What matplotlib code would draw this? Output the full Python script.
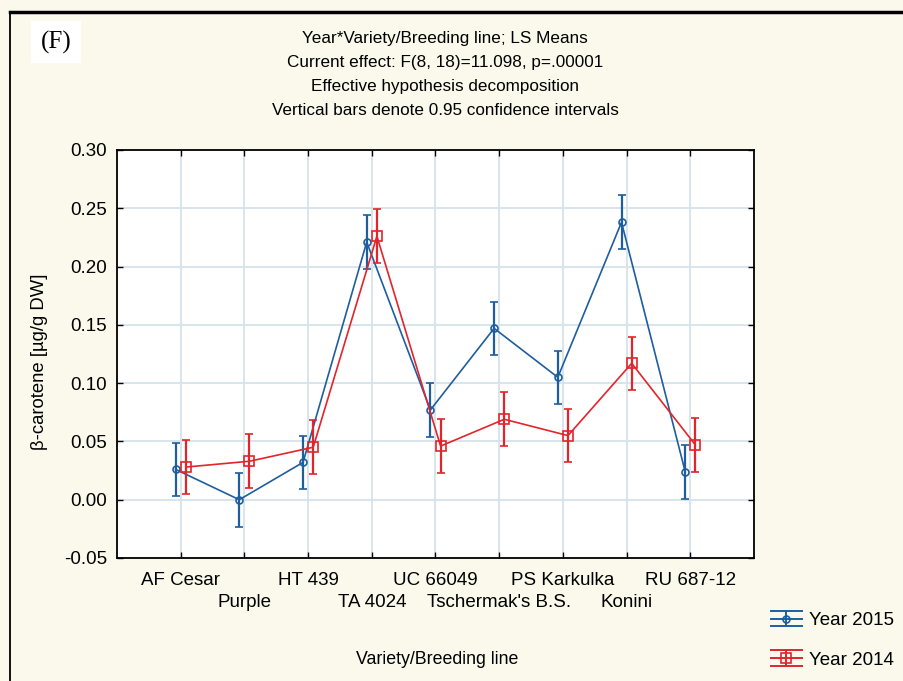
import numpy as np
import matplotlib
matplotlib.use("Agg")
import matplotlib.pyplot as plt
from matplotlib.lines import Line2D
from matplotlib.legend_handler import HandlerBase

# LS means per variety/breeding line, beta-carotene [ug/g DW]
varieties = ["AF Cesar", "Purple", "HT 439", "TA 4024", "UC 66049",
             "Tschermak's B.S.", "PS Karkulka", "Konini", "RU 687-12"]
year_2015 = [0.026, 0.000, 0.032, 0.221, 0.077, 0.147, 0.105, 0.238, 0.024]
year_2014 = [0.028, 0.033, 0.045, 0.226, 0.046, 0.069, 0.055, 0.117, 0.047]
# half width of the 0.95 confidence intervals
ci_2015 = [0.023] * 9
ci_2014 = [0.023] * 9

blue = "#1f5e9e"
red = "#e3242b"
bg = "#fbf9ec"

plt.rcParams["font.family"] = ["Liberation Sans", "DejaVu Sans"]


class ErrorbarKey(HandlerBase):
    # legend key: line with marker, vertical bar and full-width caps
    def create_artists(self, legend, orig_handle, xdescent, ydescent,
                       width, height, fontsize, trans):
        c = orig_handle.get_color()
        x0, x1 = -xdescent, width - xdescent
        ym = -ydescent + height / 2
        top, bot = ym + height * 0.6, ym - height * 0.6
        xm = (x0 + x1) / 2
        arts = [Line2D([x0, x1], [top, top]), Line2D([x0, x1], [ym, ym]),
                Line2D([x0, x1], [bot, bot]), Line2D([xm, xm], [bot, top])]
        for a in arts:
            a.set_color(c)
            a.set_linewidth(1.4)
        arts.append(Line2D([xm], [ym], marker=orig_handle.get_marker(),
                           markersize=orig_handle.get_markersize(),
                           mfc="none", mec=c, mew=1.2, linestyle="none"))
        for a in arts:
            a.set_transform(trans)
        return arts


fig = plt.figure(figsize=(9.04, 6.81), dpi=100, facecolor=bg)
ax = fig.add_axes([117 / 904, 1 - 558 / 681, (754 - 117) / 904, (558 - 150) / 681])
ax.set_facecolor("white")

x = np.arange(1, len(varieties) + 1)
ax.errorbar(x - 0.08, year_2015, yerr=ci_2015, color=blue, lw=1.2,
            marker="o", ms=5, mfc="none", mew=1.2, elinewidth=1.6,
            capsize=3, capthick=1.6, zorder=3)
ax.errorbar(x + 0.08, year_2014, yerr=ci_2014, color=red, lw=1.2,
            marker="s", ms=6.5, mfc="none", mew=1.2, elinewidth=1.6,
            capsize=3, capthick=1.6, zorder=4)

ax.set_xlim(0, 10)
ax.set_ylim(-0.05, 0.30)
yt = np.arange(-0.05, 0.301, 0.05)
ax.set_yticks(yt)
ax.set_yticklabels([f"{v:.2f}" for v in yt])
# category names on two staggered rows
ax.set_xticks(x[::2])
ax.set_xticklabels(varieties[::2])
ax.set_xticks(x[1::2], minor=True)
ax.set_xticklabels(varieties[1::2], minor=True)
ax.tick_params(which="both", direction="in", length=4, width=1, top=True,
               right=True, labelsize=13.5, pad=7)
ax.tick_params(axis="x", which="major", pad=10)
ax.tick_params(axis="x", which="minor", pad=26)
ax.grid(True, which="both", color="#d6e3ea", lw=1.3)
ax.set_axisbelow(True)
for s in ax.spines.values():
    s.set_linewidth(1.3)

ax.set_ylabel("\u03b2-carotene [\u00b5g/g DW]", fontsize=13.3)
ax.yaxis.set_label_coords(-0.108, 0.48)
fig.text(437 / 904, 1 - 660 / 681, "Variety/Breeding line", fontsize=12.8,
         ha="center", va="center")

titles = ["Year*Variety/Breeding line; LS Means",
          "Current effect: F(8, 18)=11.098, p=.00001",
          "Effective hypothesis decomposition",
          "Vertical bars denote 0.95 confidence intervals"]
for i, t in enumerate(titles):
    fig.text(445 / 904, 1 - (38 + 24.3 * i) / 681, t, fontsize=12.3,
             ha="center", va="center")

fig.text(56 / 904, 1 - 42 / 681, "(F)", fontsize=18, family="Liberation Serif",
         ha="center", va="center",
         bbox=dict(facecolor="white", edgecolor="none", pad=7))

# page frame
fig.add_artist(Line2D([10 / 904, 1], [1 - 12 / 681] * 2, color="black",
                      lw=2.5, transform=fig.transFigure))
fig.add_artist(Line2D([10 / 904] * 2, [0, 1 - 12 / 681], color="black",
                      lw=1.3, transform=fig.transFigure))

keys = [Line2D([], [], color=blue, marker="o", ms=5),
        Line2D([], [], color=red, marker="s", ms=6.5)]
fig.legend(keys, ["Year 2015", "Year 2014"], loc="upper left",
           bbox_to_anchor=(771 / 904, 1 - 612 / 681), frameon=False,
           handler_map={Line2D: ErrorbarKey()}, fontsize=13.5,
           handlelength=1.65, handletextpad=0.4, labelspacing=1.2,
           borderpad=0, borderaxespad=0)

fig.savefig("out.png", dpi=100, facecolor=bg)
